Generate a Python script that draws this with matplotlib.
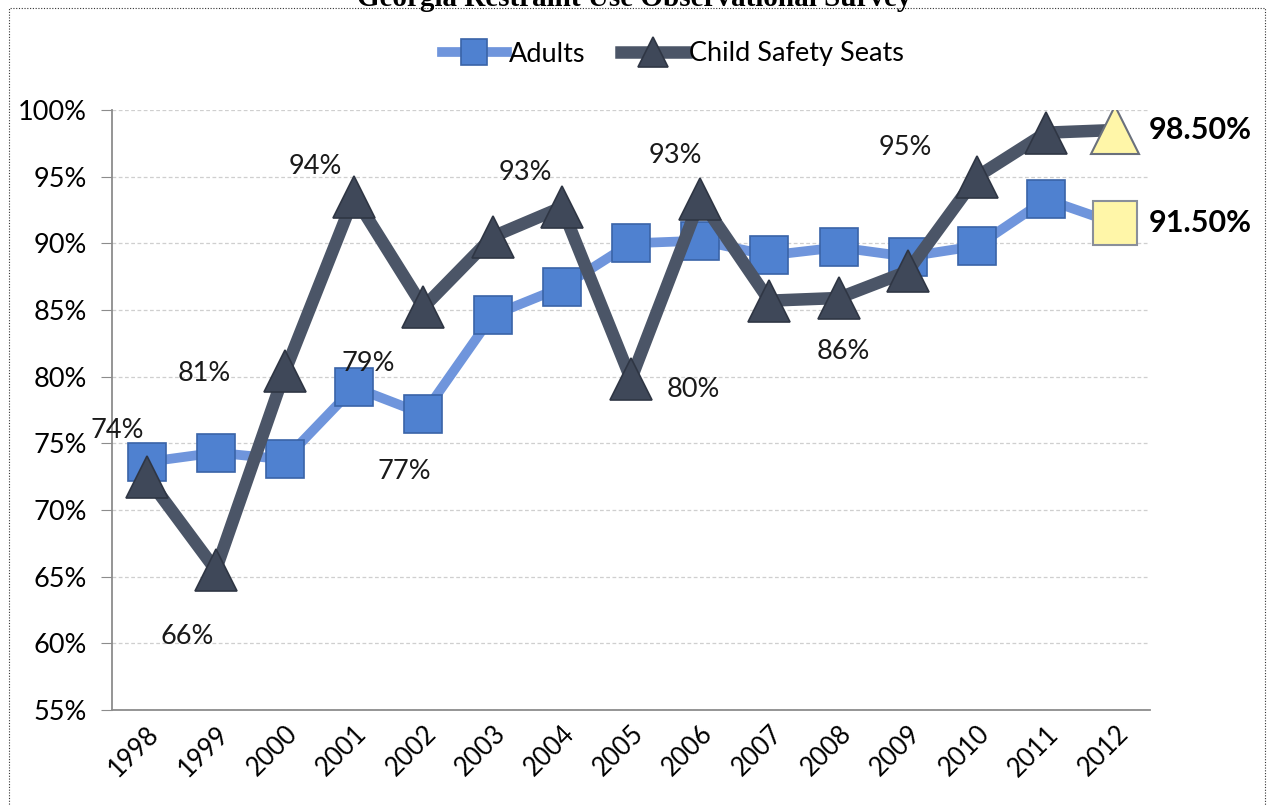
import matplotlib.pyplot as plt
from matplotlib.patches import Rectangle

plt.rcParams['font.family'] = ['Lato', 'DejaVu Sans']

years = ['1998', '1999', '2000', '2001', '2002', '2003', '2004', '2005',
         '2006', '2007', '2008', '2009', '2010', '2011', '2012']
adults = [73.6, 74.3, 73.8, 79.2, 77.2, 84.6, 86.7, 90.0,
          90.2, 89.1, 89.7, 89.0, 89.8, 93.3, 91.5]
child_seats = [72.5, 65.5, 80.4, 93.5, 85.2, 90.5, 92.7, 79.8,
               93.3, 85.7, 85.9, 87.9, 95.0, 98.3, 98.5]

# labels that float around the chart (text, x, y in data units)
point_labels = ['74%', '81%', '94%', '79%', '77%', '93%', '93%', '80%', '95%', '86%', '66%']
label_x = [-0.42, 0.83, 2.44, 3.21, 3.72, 5.47, 7.64, 7.90, 10.96, 10.07, 0.59]
label_y = [76.0, 80.2, 95.8, 81.0, 72.9, 95.3, 96.6, 79.0, 97.2, 81.9, 60.5]

blue_line = '#6f95dc'
blue_mark = '#4f81d0'
dark_line = '#4b5567'
dark_mark = '#3f4859'
yellow = '#fff6a8'

fig = plt.figure(figsize=(12.68, 8.06), dpi=100)
ax = fig.add_axes([112 / 1268, 1 - 710 / 806, (1150 - 112) / 1268, 600 / 806])

x = list(range(len(years)))

ax.plot(x, adults, color=blue_line, lw=7, zorder=2, label='Adults',
        marker='s', ms=27, mfc=blue_mark, mec='#3a64a8', mew=1.2, markevery=list(range(14)))
ax.plot(x, child_seats, color=dark_line, lw=9, zorder=3, label='Child Safety Seats',
        marker='^', ms=30, mfc=dark_mark, mec='#2f3644', mew=1.2, markevery=list(range(14)))

# highlighted final year
ax.plot(x[-1], adults[-1], marker='s', ms=31, mfc=yellow, mec='#8a8f9a', mew=1.5, zorder=4, ls='none')
ax.plot(x[-1], child_seats[-1], marker='^', ms=34, mfc=yellow, mec='#6a707c', mew=1.5, zorder=4, ls='none')

for t, lx, ly in zip(point_labels, label_x, label_y):
    ax.text(lx, ly, t, fontsize=19.5, ha='center', va='center', color='#1a1a1a', zorder=5)

ax.text(x[-1] + 0.48, child_seats[-1], '%.2f%%' % child_seats[-1], fontsize=22,
        fontweight='bold', ha='left', va='center', clip_on=False)
ax.text(x[-1] + 0.48, adults[-1], '%.2f%%' % adults[-1], fontsize=22,
        fontweight='bold', ha='left', va='center', clip_on=False)

ax.set_xlim(-0.5, len(years) - 0.5)
ax.set_ylim(55, 100)
ax.set_yticks(range(55, 101, 5))
ax.set_yticklabels(['%d%%' % v for v in range(55, 101, 5)], fontsize=19.5)
ax.set_xticks(x)
ax.set_xticklabels(years, rotation=45, ha='right', rotation_mode='anchor', fontsize=18.5)
ax.tick_params(axis='x', length=0, pad=8)
ax.tick_params(axis='y', length=8, color='#8c8c8c', pad=10)

ax.grid(axis='y', color='#cfcfcf', ls=(0, (3, 2)), lw=0.9)
ax.set_axisbelow(True)
for s in ['top', 'right']:
    ax.spines[s].set_visible(False)
for s in ['left', 'bottom']:
    ax.spines[s].set_color('#8c8c8c')
    ax.spines[s].set_linewidth(1.3)

leg = ax.legend(loc='center', bbox_to_anchor=(0.54, 1 + (110 - 54) / 600), ncol=2, frameon=False,
                fontsize=19.5, handlelength=2.4, handletextpad=0.1, columnspacing=1.3,
                markerscale=0.7)

# dotted border and clipped title at the top
fig.patches.append(Rectangle((9 / 1268, -0.02), 1256 / 1268, 1 - 8 / 806 + 0.02,
                             transform=fig.transFigure, fill=False, ls=(0, (1, 1.5)),
                             lw=0.8, ec='#333333'))
fig.text(0.5, 1 - 6 / 806, 'Georgia Restraint Use Observational Survey', ha='center',
         va='baseline', fontsize=21, fontweight='bold', family='Liberation Serif')

fig.savefig('out.png', dpi=100)
